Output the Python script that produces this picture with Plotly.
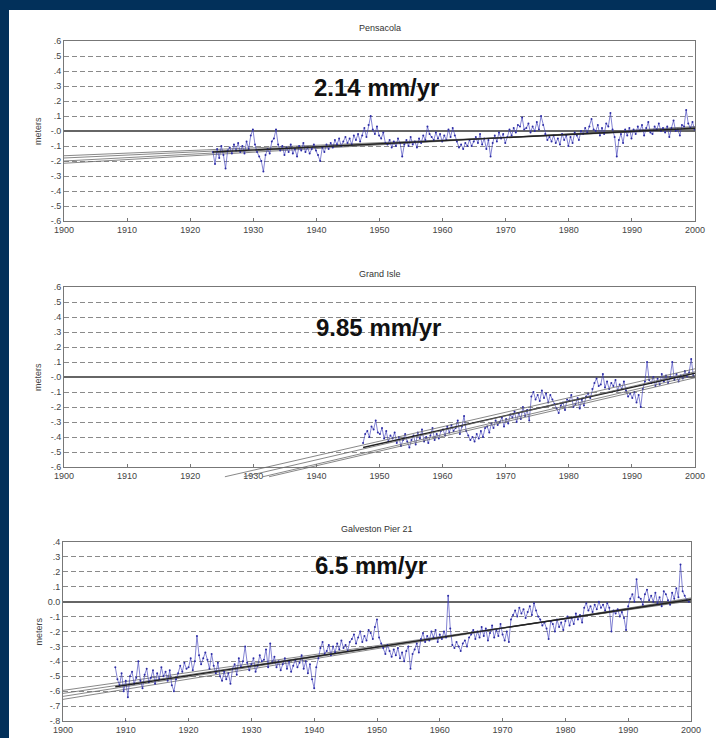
import plotly.graph_objects as go

# ---------------- data (sea level, cm) ----------------
years_axis = [1900, 1910, 1920, 1930, 1940, 1950, 1960, 1970, 1980, 1990, 2000]

pens_start = 1923.6
pens_cm = [
    -14, -22,
    -12, -18, -10,  -16, -25, -13,  -11, -15, -9,  -13, -8, -14,  -10, -15, -7,
    -12, -3, 1,  -9, -14, -17,  -20, -27, -16,  -12, -15, -7,  -5, 1, -9,
    -13, -10, -16,  -11, -14, -9,  -15, -12, -17,  -10, -13, -8,  -14, -11, -15,
    -12, -9, -13,  -16, -20, -11,  -14, -9, -12,  -8, -11, -6,  -9, -5, -10,
    -7, -4, -8,  -5, -9, -3,  -6, -2, -7,  -3, 2, -4,  4, 10, 1,
    -2, 3, -3,  -5, -1, -8,  -9, -6, -11,  -7, -10, -5,  -8, -17, -9,
    -6, -10, -4,  -9, -7, -11,  -5, -8, -3,  -6, 3, -2,  -4, -6, -1,
    -5, -2, -7,  -3, -6, 1,  -4, 2, -3,  -7, -11, -9,  -12, -8, -10,
    -6, -10, -7,  -4, -8, -2,  -9, -5, -12,  -6, -17, -8,  -3, -7, -1,
    -5, -2, -8,  -4, 1, -3,  2, -1, 4,  3, 9, 1,  2, 5, -1,
    3, 0, 6,  1, 10, 4,  -2, -6, -4,  -7, -3, -8,  -5, -9, -2,
    -6, -3, -10,  -4, -8, -1,  -3, -6, 0,  -2, 2, -1,  3, 8, 1,
    0, 4, -3,  2, -2, 5,  3, 12, 1,  -4, -17, -6,  -2, -8, 1,
    -3, 2, -5,  1, -2, 3,  0, 4, -3,  2, 6, -1,  -2, 3, 1,
    5, 0, 2,  -1, 3, -4,  2, 7, 0,  1, -3, 4,  3, 14, 5,  2, 6, 1,
]

gi_start = 1947.4
gi_cm = [
    -44, -38,
    -36, -40, -33,  -35, -29, -37,  -38, -34, -41,  -36, -43, -39,  -41, -37, -44,
    -40, -46, -42,  -38, -43, -47,  -42, -39, -45,  -37, -41, -35,  -43, -40, -44,
    -39, -34, -42,  -38, -41, -36,  -35, -39, -33,  -37, -32, -36,  -34, -29, -38,
    -33, -26, -36,  -39, -42, -40,  -43, -38, -41,  -36, -40, -34,  -33, -37, -31,
    -34, -29, -32,  -30, -27, -33,  -28, -31, -25,  -27, -23, -30,  -24, -28, -20,
    -26, -22, -29,  -13, -10, -15,  -12, -16, -9,  -14, -11, -17,  -12, -15, -18,
    -21, -24, -19,  -17, -22, -15,  -16, -12, -20,  -18, -14, -21,  -15, -19, -13,
    -11, -14, -8,  -4, -1, -6,  -5, 2, -7,  -3, -8, -4,  -6, -2, -9,
    -5, -8, -3,  -9, -13, -11,  -14, -10, -17,  -12, -20, -8,  -3, 10, -2,
    -4, 0, -6,  -1, -5, 2,  -3, 1, -4,  0, 10, -2,  2, -3, 1,
    -1, 4, 0,  3, 12, 1,
]

gal_start = 1908.33
gal_cm = [
    -44, -52,
    -56, -48, -60,  -53, -64, -50,  -47, -55, -51,  -40, -53, -58,  -49, -45, -54,
    -51, -46, -55,  -48, -52, -44,  -50, -47, -53,  -46, -56, -60,  -52, -48, -43,
    -47, -41, -45,  -44, -38, -46,  -40, -23, -36,  -42, -38, -34,  -39, -45, -35,
    -43, -48, -41,  -50, -53, -47,  -52, -48, -55,  -45, -42, -49,  -38, -44, -40,
    -30, -41, -46,  -42, -38, -47,  -43, -36, -40,  -39, -32, -44,  -28, -41, -37,
    -44, -40, -46,  -42, -38, -45,  -40, -47, -43,  -39, -44, -41,  -36, -45, -40,
    -48, -42, -52,  -58, -44, -38,  -31, -27, -35,  -33, -29, -36,  -30, -34, -28,
    -32, -26, -31,  -29, -33, -27,  -25, -22, -28,  -24, -20, -27,  -23, -26, -19,
    -21, -25, -17,  -12, -24, -28,  -31, -35, -29,  -33, -37, -32,  -36, -31, -38,
    -34, -40, -33,  -30, -45, -35,  -32, -28, -34,  -25, -21, -27,  -23, -26, -20,
    -24, -19, -27,  -22, -25, -20,  -24, 4, -18,  -29, -31, -27,  -30, -33, -28,
    -26, -30, -24,  -22, -19, -25,  -20, -24, -17,  -23, -18, -26,  -21, -16, -24,
    -19, -23, -15,  -22, -26, -20,  -27, -12, -9,  -6, -10, -4,  -8, -5, -11,
    -7, -3, -9,  -1, -6, -10,  -12, -16, -14,  -18, -25, -13,  -15, -20, -12,
    -17, -14, -19,  -13, -10, -16,  -11, -15, -8,  -12, -9, -14,  -4, -1, -6,
    -3, -7, -2,  -5, 0, -4,  -2, -6, -1,  -4, -20, -6,  -8, -5, -10,
    -7, -11, -19,  -3, 2, 5,  0, 15, 3,  2, -2, 5,  8, 1, 4,
    0, 6, -1,  3, -3, 7,  5, 1, -2,  6, 2, 9,  3, 25, 7,  4, 1, 0,
]

# regression lines (with confidence fan)
pens_fan_x0 = [1900, 1900, 1900, 1900]
pens_fan_y0 = [-0.165, -0.18, -0.20, -0.215]
pens_fan_y1 = [0.01, 0.015, 0.025, 0.03]
pens_fit_x = [1923.6, 2000]
pens_fit_y = [-0.14, 0.018]

gi_fan_x0 = [1925.5, 1928.5, 1931.5, 1932.5]
gi_fan_y0 = [-0.665, -0.665, -0.665, -0.665]
gi_fan_y1 = [0.055, 0.035, 0.01, -0.005]
gi_fit_x = [1947.4, 2000]
gi_fit_y = [-0.47, 0.025]

gal_fan_x0 = [1900, 1900, 1900, 1900]
gal_fan_y0 = [-0.595, -0.615, -0.635, -0.655]
gal_fan_y1 = [0.005, 0.01, 0.02, 0.025]
gal_fit_x = [1908.33, 2000]
gal_fit_y = [-0.57, 0.015]

titles = ["Pensacola", "Grand Isle", "Galveston Pier 21"]
rates = ["2.14 mm/yr", "9.85 mm/yr", "6.5 mm/yr"]

ytick_vals_a = [0.6, 0.5, 0.4, 0.3, 0.2, 0.1, 0.0, -0.1, -0.2, -0.3, -0.4, -0.5, -0.6]
ytick_text_a = [".6", ".5", ".4", ".3", ".2", ".1", "-.0", "-.1", "-.2", "-.3", "-.4", "-.5", "-.6"]
ytick_vals_b = [0.4, 0.3, 0.2, 0.1, 0.0, -0.1, -0.2, -0.3, -0.4, -0.5, -0.6, -0.7, -0.8]
ytick_text_b = [".4", ".3", ".2", ".1", "0.0", "-.1", "-.2", "-.3", "-.4", "-.5", "-.6", "-.7", "-.8"]

# ---------------- layout geometry ----------------
W, H = 716, 738
NAVY = "#02305a"
BLUE = "rgb(45,45,165)"
FAN = "#6a6a6a"
FONT = "Liberation Sans, Arial, sans-serif"

def fx(px):
    return px / W

def fy(py):
    return 1 - py / H

panels = [
    dict(x=(64, 695), y=(41, 221), rng=(-0.6, 0.6), tv=ytick_vals_a, tt=ytick_text_a,
         start=pens_start, cm=pens_cm, fx0=pens_fan_x0, fy0=pens_fan_y0, fy1=pens_fan_y1,
         fitx=pens_fit_x, fity=pens_fit_y, rate_xy=(376, 88)),
    dict(x=(64, 695), y=(287, 467), rng=(-0.6, 0.6), tv=ytick_vals_a, tt=ytick_text_a,
         start=gi_start, cm=gi_cm, fx0=gi_fan_x0, fy0=gi_fan_y0, fy1=gi_fan_y1,
         fitx=gi_fit_x, fity=gi_fit_y, rate_xy=(378, 327)),
    dict(x=(63, 691), y=(542, 721), rng=(-0.8, 0.4), tv=ytick_vals_b, tt=ytick_text_b,
         start=gal_start, cm=gal_cm, fx0=gal_fan_x0, fy0=gal_fan_y0, fy1=gal_fan_y1,
         fitx=gal_fit_x, fity=gal_fit_y, rate_xy=(371, 565)),
]

fig = go.Figure()
annotations = []
layout_axes = {}

for i, p in enumerate(panels):
    n = i + 1
    xa = "x" if n == 1 else f"x{n}"
    ya = "y" if n == 1 else f"y{n}"
    xkey = "xaxis" if n == 1 else f"xaxis{n}"
    ykey = "yaxis" if n == 1 else f"yaxis{n}"
    layout_axes[xkey] = dict(
        domain=[fx(p["x"][0]), fx(p["x"][1])], range=[1900, 2000], anchor=ya,
        tickvals=years_axis, ticktext=[str(v) for v in years_axis],
        ticks="inside", ticklen=3, tickcolor="#777", showgrid=False, zeroline=False,
        showline=True, linecolor="#777", linewidth=1, mirror=True, automargin=False,
        tickfont=dict(size=9, color="#444", family=FONT),
    )
    layout_axes[ykey] = dict(
        domain=[fy(p["y"][1]), fy(p["y"][0])], range=list(p["rng"]), anchor=xa,
        tickvals=p["tv"], ticktext=p["tt"], ticks="",
        showgrid=True, gridcolor="#8a8a8a", gridwidth=1, griddash="5px,3px",
        zeroline=True, zerolinecolor="#666", zerolinewidth=1.6,
        showline=True, linecolor="#777", linewidth=1, mirror=True, automargin=False,
        tickfont=dict(size=9, color="#444", family=FONT),
    )

    # fan lines; for Grand Isle they run below the axis, so use an extended hidden axis
    if n == 2:
        ext_bottom = 480
        ext_lo = p["rng"][1] - (ext_bottom - p["y"][0]) / 150.0
        layout_axes["xaxis4"] = dict(domain=[fx(p["x"][0]), fx(p["x"][1])], range=[1900, 2000],
                                     anchor="y4", visible=False, automargin=False)
        layout_axes["yaxis4"] = dict(domain=[fy(ext_bottom), fy(p["y"][0])],
                                     range=[ext_lo, p["rng"][1]], anchor="x4", visible=False,
                                     automargin=False)
        fxa, fya = "x4", "y4"
    else:
        fxa, fya = xa, ya
    for x0, y0, y1 in zip(p["fx0"], p["fy0"], p["fy1"]):
        fig.add_trace(go.Scatter(x=[x0, 2000], y=[y0, y1], mode="lines",
                                 line=dict(color=FAN, width=0.8), xaxis=fxa, yaxis=fya,
                                 showlegend=False, hoverinfo="skip"))

    xs = [p["start"] + k / 3.0 for k in range(len(p["cm"]))]
    ys = [v / 100.0 for v in p["cm"]]
    fig.add_trace(go.Scatter(x=xs, y=ys, mode="lines+markers",
                             line=dict(color="rgba(60,60,185,0.8)", width=0.8),
                             marker=dict(color=BLUE, size=2),
                             xaxis=xa, yaxis=ya, showlegend=False))
    fig.add_trace(go.Scatter(x=p["fitx"], y=p["fity"], mode="lines",
                             line=dict(color="#222", width=1.4), xaxis=xa, yaxis=ya,
                             showlegend=False, hoverinfo="skip"))

    cx = (p["x"][0] + p["x"][1]) / 2
    annotations.append(dict(text=titles[i], x=fx(cx), y=fy(p["y"][0] - 13), xref="paper",
                            yref="paper", showarrow=False, xanchor="center", yanchor="middle",
                            font=dict(size=9, color="#333", family=FONT)))
    annotations.append(dict(text="meters", x=fx(38), y=fy((p["y"][0] + p["y"][1]) / 2),
                            xref="paper", yref="paper", showarrow=False, textangle=-90,
                            xanchor="center", yanchor="middle",
                            font=dict(size=9, color="#444", family=FONT)))
    rx, ry = p["rate_xy"]
    annotations.append(dict(text="<b>" + rates[i] + "</b>", x=fx(rx), y=fy(ry), xref="paper",
                            yref="paper", showarrow=False, xanchor="center", yanchor="middle",
                            font=dict(size=24, color="#111", family=FONT)))

fig.update_layout(
    width=W, height=H, margin=dict(l=0, r=0, t=0, b=0, autoexpand=False),
    paper_bgcolor=NAVY, plot_bgcolor="rgba(0,0,0,0)",
    shapes=[dict(type="rect", xref="paper", yref="paper", x0=fx(9), x1=1.0,
                 y0=0.0, y1=fy(10), fillcolor="white", line=dict(width=0), layer="below")],
    annotations=annotations, showlegend=False, font=dict(family=FONT),
    **layout_axes,
)

fig.write_html(
    "out.html",
    config={"displayModeBar": False},
    post_script="document.body.style.margin='0';document.body.style.overflow='hidden';",
)
